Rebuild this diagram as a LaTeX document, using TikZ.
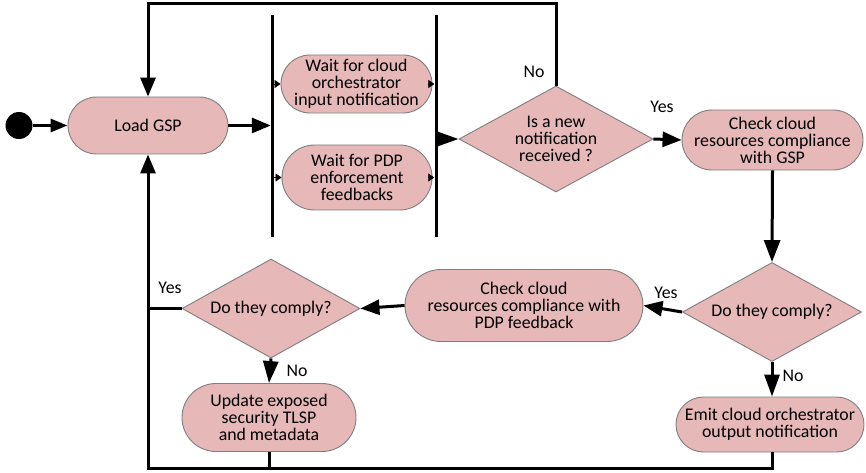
\documentclass[tikz,border=0pt]{standalone}
\usepackage{fontspec}
\setmainfont{Carlito}
\usetikzlibrary{arrows.meta,shapes.geometric,calc}
\definecolor{boxfill}{HTML}{E6B8B7}
\definecolor{boxline}{HTML}{7F7F7F}
\begin{document}
\begin{tikzpicture}[x=1pt,y=-1pt,
  every node/.style={font=\fontsize{17.8}{17}\selectfont},
  act/.style={rectangle, draw=boxline, fill=boxfill, line width=0.9pt, align=center, inner sep=1pt},
  dec/.style={diamond, draw=boxline, fill=boxfill, line width=0.9pt, align=center, inner sep=0pt},
  bar/.style={rectangle, fill=black, inner sep=0pt, minimum width=3pt, minimum height=222pt},
  arr/.style={line width=3pt, -{Triangle[length=19pt,width=15pt]}},
  ln/.style={line width=3pt},
  tinyarr/.style={line width=0.5pt, -{Triangle[length=6pt,width=8pt]}},
  lab/.style={inner sep=0pt}
]
\useasboundingbox[fill=white] (0,0) rectangle (866,473);

% start
\node[circle, fill=black, inner sep=0pt, minimum size=27pt] (start) at (19,125.5) {};

% actions
\node[act, minimum width=160pt, minimum height=57pt, rounded corners=28.5pt] (load) at (148,125.5) {Load GSP};
\node[act, minimum width=151pt, minimum height=58pt, rounded corners=29pt] (wait1) at (356.5,84) {Wait for cloud\\orchestrator\\input notification};
\node[act, minimum width=150pt, minimum height=65pt, rounded corners=32.5pt] (wait2) at (357,177.5) {Wait for PDP\\enforcement\\feedbacks};
\node[act, minimum width=181pt, minimum height=60pt, rounded corners=30pt] (chk1) at (772.5,140) {Check cloud\\resources compliance\\with GSP};
\node[act, minimum width=238pt, minimum height=72pt, rounded corners=36pt] (chk2) at (524,305.5) {Check cloud\\resources compliance with\\PDP feedback};
\node[act, minimum width=174pt, minimum height=68pt, rounded corners=34pt] (upd) at (269,417.5) {Update exposed\\security TLSP\\and metadata};
\node[act, minimum width=188pt, minimum height=55pt, rounded corners=27.5pt] (emit) at (770,424.5) {Emit cloud orchestrator\\output notification};

% decisions
\node[dec, minimum width=194pt, minimum height=106pt, aspect=1.83] (d1) at (556,139) {Is a new\\notification\\received ?};
\node[dec, minimum width=179pt, minimum height=99pt, aspect=1.8] (d2) at (772,312) {Do they comply?};
\node[dec, minimum width=178pt, minimum height=99pt, aspect=1.8] (d3) at (271,308.5) {Do they comply?};

% fork / join bars
\node[bar] (bar1) at (272.5,126) {};
\node[bar] (bar2) at (436,126) {};

% helper coordinates
\coordinate (topy) at (0,4);
\coordinate (boty) at (0,468);

% connectors
\draw[line width=3pt, -{Triangle[length=17pt,width=13pt]}] (start) -- (load);
\draw[arr] (load) -- (load -| bar1.west);
\draw[tinyarr] (wait1 -| bar1.east) -- (wait1.west);
\draw[tinyarr] (wait2 -| bar1.east) -- (wait2.west);
\draw[tinyarr] (wait1.east) -- (wait1 -| bar2.west);
\draw[tinyarr] (wait2.east) -- (wait2 -| bar2.west);
\draw[line width=3pt, -{Triangle[length=21pt,width=14pt]}] (d1 -| bar2.east) -- (d1.west);

\draw[arr] (d1.north) -- (d1.north |- topy) -| (load.north);
\draw[arr] (d1.east) -- (chk1.west);
\draw[line width=3pt, -{Triangle[length=22pt,width=16pt]}] (chk1.south) -- (d2.north);
\draw[arr] (d2.west) -- (chk2.east);
\draw[arr] (chk2.west) -- (d3.east);
\draw[ln] (d3.west) -- (d3.west -| load.south);
\draw[line width=3pt, -{Triangle[length=22pt,width=15pt]}] (d3.south) -- (upd.north);
\draw[line width=3pt, -{Triangle[length=22pt,width=15pt]}] (d2.south) -- (d2.south |- emit.north);
\draw[ln] (upd.south) -- (upd.south |- boty);
\draw[arr] (d2.south |- emit.south) -- (d2.south |- boty) -| (load.south);

% labels
\node[lab] (lno1) at (534,72) {No};
\node[lab] (lyes1) at (662,107) {Yes};
\node[lab] (lyes2) at (666,293) {Yes};
\node[lab] (lyes3) at (170,288) {Yes};
\node[lab] (lno2) at (297,371) {No};
\node[lab] (lno3) at (793,376) {No};
\end{tikzpicture}
\end{document}
